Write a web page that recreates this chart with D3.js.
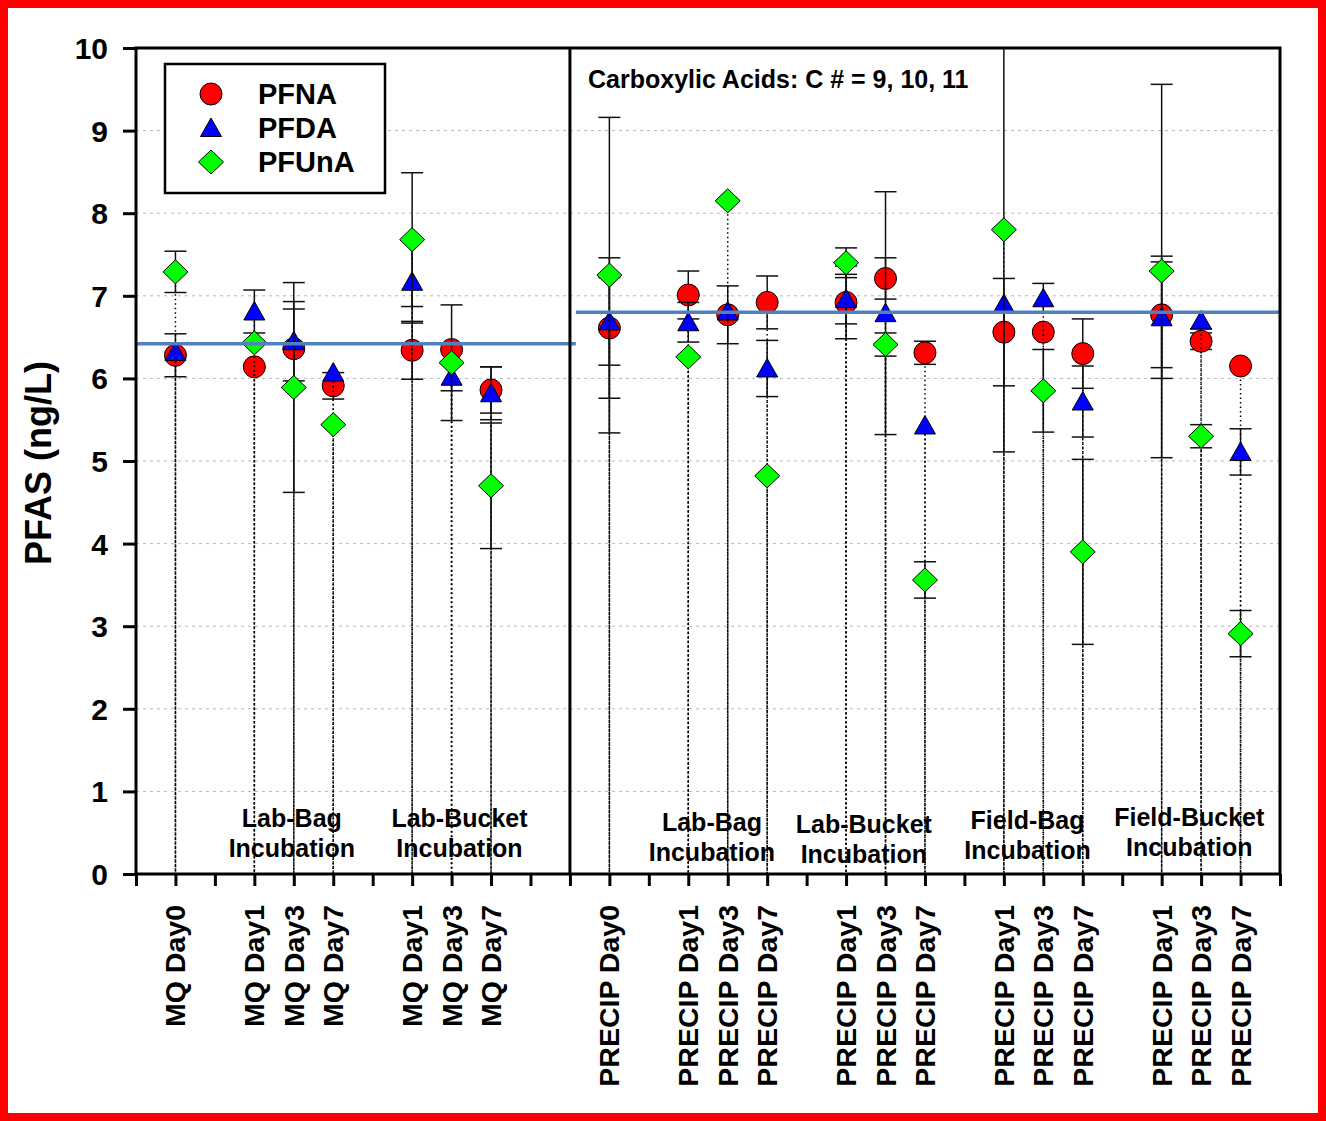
<!DOCTYPE html>
<html>
<head>
<meta charset="utf-8">
<script src="https://cdn.jsdelivr.net/npm/d3@7"></script>
<style>
  body { margin: 0; background: #fff; }
  text { font-family: 'Liberation Sans', Arial, sans-serif; font-weight: bold; fill: #000; }
</style>
</head>
<body>
<svg width="1326" height="1121"></svg>
<script>
// x slots (0..29), blanks are spacer slots
const categories = ["", "MQ Day0", "", "MQ Day1", "MQ Day3", "MQ Day7", "", "MQ Day1", "MQ Day3", "MQ Day7", "", "",
  "PRECIP Day0", "", "PRECIP Day1", "PRECIP Day3", "PRECIP Day7", "", "PRECIP Day1", "PRECIP Day3", "PRECIP Day7", "",
  "PRECIP Day1", "PRECIP Day3", "PRECIP Day7", "", "PRECIP Day1", "PRECIP Day3", "PRECIP Day7", ""]

// slot of each sample
const sampleSlots = [1, 3, 4, 5, 7, 8, 9, 12, 14, 15, 16, 18, 19, 20, 22, 23, 24, 26, 27, 28]

const pfna    = [6.28, 6.14, 6.36, 5.91, 6.34, 6.35, 5.86, 6.61, 7.01, 6.77, 6.92, 6.92, 7.21, 6.31, 6.56, 6.56, 6.30, 6.77, 6.45, 6.15]
const pfnaErr = [0.26, 0, 0.48, 0.16, 0.35, 0, 0.28, 0.85, 0.29, 0.35, 0.32, 0.44, 0.25, 0.14, 0.65, 0, 0.42, 0.64, 0.10, 0]
const pfda    = [6.32, 6.81, 6.45, 6.07, 7.17, 6.02, 5.82, 6.69, 6.68, 6.81, 6.12, 6.96, 6.79, 5.43, 6.90, 6.97, 5.72, 6.74, 6.70, 5.11]
const pfdaErr = [0, 0.26, 0.48, 0, 0.50, 0.17, 0.32, 0.53, 0.24, 0, 0.34, 0.30, 1.47, 0, 0, 0.18, 0.43, 0.74, 0.10, 0.28]
const pfuna    = [7.29, 6.43, 5.89, 5.44, 7.68, 6.19, 4.70, 7.25, 6.26, 8.15, 4.82, 7.40, 6.41, 3.56, 7.80, 5.85, 3.90, 7.30, 5.30, 2.91]
const pfunaErr = [0.25, 0, 1.27, 0, 0.81, 0.70, 0.76, 1.91, 0, 0, 0, 0.18, 0.14, 0.22, 2.69, 0.50, 1.12, 2.26, 0.14, 0.28]

const yTicks = [0, 1, 2, 3, 4, 5, 6, 7, 8, 9, 10]

// blue reference lines (slot range, value)
const meanLines = [
  { from: 0, to: 11.15, value: 6.42 },
  { from: 11.15, to: 29, value: 6.80 }
]

// group annotations: slot position, first line value
const groupLabels = [
  { pos: 3.95, value: 0.57, lines: ["Lab-Bag", "Incubation"] },
  { pos: 8.2, value: 0.57, lines: ["Lab-Bucket", "Incubation"] },
  { pos: 14.6, value: 0.52, lines: ["Lab-Bag", "Incubation"] },
  { pos: 18.45, value: 0.50, lines: ["Lab-Bucket", "Incubation"] },
  { pos: 22.6, value: 0.54, lines: ["Field-Bag", "Incubation"] },
  { pos: 26.7, value: 0.58, lines: ["Field-Bucket", "Incubation"] }
]

const symbols = {
  circle: 'M11,0A11,11 0 1,1 -11,0A11,11 0 1,1 11,0Z',
  triangle: 'M0,-10L10.5,8.5L-10.5,8.5Z',
  diamond: 'M0,-12L12.5,0L0,12L-12.5,0Z'
}

const series = [
  { name: 'PFNA', values: pfna, err: pfnaErr, color: '#ff0000', shape: 'circle' },
  { name: 'PFDA', values: pfda, err: pfdaErr, color: '#0000ff', shape: 'triangle' },
  { name: 'PFUnA', values: pfuna, err: pfunaErr, color: '#00ff00', shape: 'diamond' }
]

const svg = d3.select('svg')
const plotLeft = 136, plotRight = 1280, plotTop = 48, plotBottom = 874

const x = d3.scaleLinear().domain([0, categories.length - 1]).range([plotLeft, plotRight])
const y = d3.scaleLinear().domain([0, 10]).range([plotBottom, plotTop])

// red outer frame
svg.append('rect').attr('x', 4).attr('y', 4).attr('width', 1318).attr('height', 1113)
  .attr('fill', 'none').attr('stroke', '#ff0000').attr('stroke-width', 8)

svg.append('clipPath').attr('id', 'plot').append('rect')
  .attr('x', plotLeft).attr('y', plotTop).attr('width', plotRight - plotLeft).attr('height', plotBottom - plotTop)

// grid
svg.append('g').selectAll('line').data(yTicks.slice(1, -1)).join('line')
  .attr('x1', plotLeft).attr('x2', plotRight)
  .attr('y1', d => y(d)).attr('y2', d => y(d))
  .attr('stroke', '#b8b8b8').attr('stroke-width', 1).attr('stroke-dasharray', '3,4')

// axes
const yAxis = svg.append('g').attr('transform', `translate(${plotLeft},0)`)
  .call(d3.axisLeft(y).tickValues(yTicks).tickSize(13).tickPadding(15))
yAxis.select('.domain').remove()
yAxis.selectAll('line').attr('stroke-width', 3)
yAxis.selectAll('text').style('font-size', '30px').attr('dy', '0.35em')

const xAxis = svg.append('g').attr('transform', `translate(0,${plotBottom})`)
  .call(d3.axisBottom(x).tickValues(d3.range(categories.length)).tickSize(12).tickFormat(''))
xAxis.select('.domain').remove()
xAxis.selectAll('line').attr('stroke-width', 3)

svg.append('g').selectAll('text').data(categories.map((c, i) => [c, i]).filter(d => d[0])).join('text')
  .attr('transform', d => `translate(${x(d[1])},905) rotate(-90)`)
  .attr('dy', '0.35em').attr('text-anchor', 'end')
  .style('font-size', '28.5px')
  .text(d => d[0])

svg.append('text').attr('transform', 'translate(38,463) rotate(-90)')
  .attr('text-anchor', 'middle').attr('dy', '0.35em').style('font-size', '36px')
  .text('PFAS (ng/L)')

// series: drop lines, error bars, symbols
const plot = svg.append('g').attr('clip-path', 'url(#plot)')
series.forEach(s => {
  const pts = s.values.map((v, i) => ({ slot: sampleSlots[i], v: v, e: s.err[i] }))
  const g = plot.append('g')
  g.selectAll('.drop').data(pts).join('line').attr('class', 'drop')
    .attr('x1', d => x(d.slot)).attr('x2', d => x(d.slot))
    .attr('y1', d => y(d.v)).attr('y2', y(0))
    .attr('stroke', '#000').attr('stroke-width', 1.5).attr('stroke-dasharray', '1.5,3')
  const eb = pts.filter(d => d.e > 0)
  g.selectAll('.err').data(eb).join('line').attr('class', 'err')
    .attr('x1', d => x(d.slot)).attr('x2', d => x(d.slot))
    .attr('y1', d => y(d.v + d.e)).attr('y2', d => y(d.v - d.e))
    .attr('stroke', '#111').attr('stroke-width', 1.5)
  g.selectAll('.capT').data(eb).join('line').attr('class', 'capT')
    .attr('x1', d => x(d.slot) - 11).attr('x2', d => x(d.slot) + 11)
    .attr('y1', d => y(d.v + d.e)).attr('y2', d => y(d.v + d.e))
    .attr('stroke', '#111').attr('stroke-width', 1.5)
  g.selectAll('.capB').data(eb).join('line').attr('class', 'capB')
    .attr('x1', d => x(d.slot) - 11).attr('x2', d => x(d.slot) + 11)
    .attr('y1', d => y(d.v - d.e)).attr('y2', d => y(d.v - d.e))
    .attr('stroke', '#111').attr('stroke-width', 1.5)
  g.selectAll('path').data(pts).join('path')
    .attr('transform', d => `translate(${x(d.slot)},${y(d.v)})`)
    .attr('d', symbols[s.shape])
    .attr('fill', s.color).attr('stroke', '#000').attr('stroke-width', 1)
})

// mean lines
svg.append('g').selectAll('line').data(meanLines).join('line')
  .attr('x1', d => x(d.from)).attr('x2', d => x(d.to))
  .attr('y1', d => y(d.value)).attr('y2', d => y(d.value))
  .attr('stroke', '#4f81bd').attr('stroke-width', 3.5)

// frame and divider
svg.append('rect').attr('x', plotLeft).attr('y', plotTop).attr('width', plotRight - plotLeft).attr('height', plotBottom - plotTop)
  .attr('fill', 'none').attr('stroke', '#000').attr('stroke-width', 3)
svg.append('line').attr('x1', x(11)).attr('x2', x(11)).attr('y1', plotTop).attr('y2', plotBottom)
  .attr('stroke', '#000').attr('stroke-width', 3)

// group labels
groupLabels.forEach(gl => {
  const t = svg.append('text').attr('text-anchor', 'middle').style('font-size', '25px')
    .attr('x', x(gl.pos)).attr('y', y(gl.value))
  gl.lines.forEach((ln, k) => {
    t.append('tspan').attr('x', x(gl.pos)).attr('dy', k === 0 ? 0 : 30).text(ln)
  })
})

svg.append('text').attr('x', 588).attr('y', 88).style('font-size', '25px')
  .text('Carboxylic Acids: C # = 9, 10, 11')

// legend
const legend = svg.append('g')
legend.append('rect').attr('x', 165).attr('y', 64).attr('width', 220).attr('height', 129)
  .attr('fill', '#fff').attr('stroke', '#000').attr('stroke-width', 2.5)
series.forEach((s, i) => {
  legend.append('path').attr('transform', `translate(211,${94 + i * 34})`)
    .attr('d', symbols[s.shape]).attr('fill', s.color).attr('stroke', '#000').attr('stroke-width', 1)
  legend.append('text').attr('x', 258).attr('y', 94 + i * 34).attr('dy', '0.35em')
    .style('font-size', '29px').text(s.name)
})
</script>
</body>
</html>
